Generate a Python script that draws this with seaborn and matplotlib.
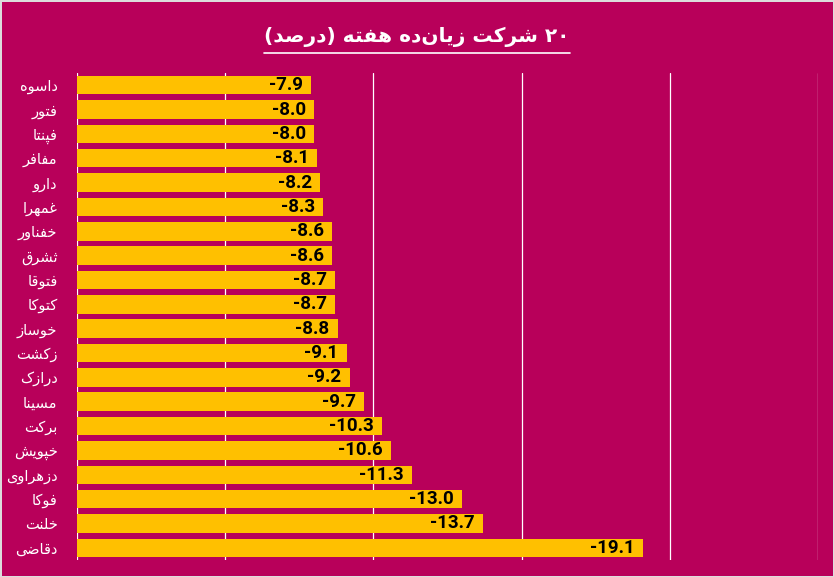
import re
import matplotlib
matplotlib.use("Agg")
import matplotlib.pyplot as plt
import seaborn as sns
import pandas as pd
from matplotlib.lines import Line2D

# weekly losers (percent change)
symbols = ["داسوه", "فتور", "فپنتا", "مفافر", "دارو", "غمهرا", "خفناور", "ثشرق", "فتوقا", "کتوکا",
           "خوساز", "زکشت", "درازک", "مسینا", "برکت", "خپویش", "دزهراوی", "فوکا", "خلنت", "دقاضی"]
changes = [-7.9, -8.0, -8.0, -8.1, -8.2, -8.3, -8.6, -8.6, -8.7, -8.7,
           -8.8, -9.1, -9.2, -9.7, -10.3, -10.6, -11.3, -13.0, -13.7, -19.1]
grid_ticks = [0, -5, -10, -15, -20, -25]
title_text = "۲۰ شرکت زیان‌ده هفته (درصد)"

BG = "#B8005A"
BAR = "#FFC000"

# contextual forms: isolated, final, initial, medial (None = joins only to the right)
FORMS = {
    'ا': (0xFE8D, 0xFE8E, None, None),
    'ب': (0xFE8F, 0xFE90, 0xFE91, 0xFE92),
    'پ': (0xFB56, 0xFB57, 0xFB58, 0xFB59),
    'ت': (0xFE95, 0xFE96, 0xFE97, 0xFE98),
    'ث': (0xFE99, 0xFE9A, 0xFE9B, 0xFE9C),
    'خ': (0xFEA5, 0xFEA6, 0xFEA7, 0xFEA8),
    'د': (0xFEA9, 0xFEAA, None, None),
    'ر': (0xFEAD, 0xFEAE, None, None),
    'ز': (0xFEAF, 0xFEB0, None, None),
    'س': (0xFEB1, 0xFEB2, 0xFEB3, 0xFEB4),
    'ش': (0xFEB5, 0xFEB6, 0xFEB7, 0xFEB8),
    'ص': (0xFEB9, 0xFEBA, 0xFEBB, 0xFEBC),
    'ض': (0xFEBD, 0xFEBE, 0xFEBF, 0xFEC0),
    'غ': (0xFECD, 0xFECE, 0xFECF, 0xFED0),
    'ف': (0xFED1, 0xFED2, 0xFED3, 0xFED4),
    'ق': (0xFED5, 0xFED6, 0xFED7, 0xFED8),
    'ک': (0xFB8E, 0xFB8F, 0xFB90, 0xFB91),
    'ل': (0xFEDD, 0xFEDE, 0xFEDF, 0xFEE0),
    'م': (0xFEE1, 0xFEE2, 0xFEE3, 0xFEE4),
    'ن': (0xFEE5, 0xFEE6, 0xFEE7, 0xFEE8),
    'ه': (0xFEE9, 0xFEEA, 0xFEEB, 0xFEEC),
    'و': (0xFEED, 0xFEEE, None, None),
    'ی': (0xFBFC, 0xFBFD, 0xFBFE, 0xFBFF),
}


def shape(text):
    """join persian letters and put them in visual (left-to-right) order"""
    out = []
    n = len(text)
    for i, ch in enumerate(text):
        f = FORMS.get(ch)
        if f is None:
            if ch != '\u200c':
                out.append(ch)
            continue
        prev = FORMS.get(text[i - 1]) if i > 0 else None
        nxt = FORMS.get(text[i + 1]) if i < n - 1 else None
        join_prev = prev is not None and prev[2] is not None
        join_next = f[2] is not None and nxt is not None
        if join_prev and join_next:
            c = f[3]
        elif join_prev:
            c = f[1]
        elif join_next:
            c = f[2]
        else:
            c = f[0]
        out.append(chr(c))
    vis = ''.join(reversed(out))
    vis = vis.translate(str.maketrans('()', ')('))
    vis = re.sub(r'[0-9\u06f0-\u06f9.]+', lambda m: m.group(0)[::-1], vis)
    return vis


sns.set_style("white")
plt.rcParams['font.family'] = ['DejaVu Sans']

fig = plt.figure(figsize=(8.34, 5.77), dpi=100, facecolor=BG)
fig.patch.set_edgecolor("#dcdcdc")
fig.patch.set_linewidth(2)
ax = fig.add_axes([0.0923, 0.0295, 0.8885, 0.844])
ax.set_facecolor(BG)

df = pd.DataFrame({"symbol": [shape(s) for s in symbols], "change": changes})
sns.barplot(data=df, x="change", y="symbol", orient="h", color=BAR, saturation=1,
            width=0.76, linewidth=0, ax=ax, zorder=2)

ax.set_xlim(0, -25)
ax.set_xticks(grid_ticks)
ax.grid(axis="x", color="white", linewidth=0.9, zorder=0)
ax.grid(axis="y", visible=False)
ax.set_axisbelow(True)
ax.tick_params(axis="x", length=0, labelbottom=False)
ax.tick_params(axis="y", length=0, pad=14, labelsize=10.5, labelcolor="white")
ax.set_xlabel("")
ax.set_ylabel("")
for s in ax.spines.values():
    s.set_visible(False)

for i, v in enumerate(changes):
    ax.annotate(f"{v:.1f}", xy=(v, i), xytext=(-6, 0), textcoords="offset points",
                ha="right", va="center", fontsize=13.5, fontweight="bold",
                family=["Roboto", "DejaVu Sans"], color="black", zorder=3)

title = fig.text(0.5, 1 - 37 / 577, shape(title_text), ha="center", va="center",
                 color="white", fontsize=14.5, fontweight="bold")

# underline under the title
fig.canvas.draw()
bb = title.get_window_extent()
y_line = fig.bbox.height - 53
fig.add_artist(Line2D([bb.x0 / fig.bbox.width, bb.x1 / fig.bbox.width],
                      [y_line / fig.bbox.height] * 2,
                      transform=fig.transFigure, color="white", linewidth=1.2))

fig.savefig("out.png", dpi=100, facecolor=BG, edgecolor=fig.get_edgecolor())
